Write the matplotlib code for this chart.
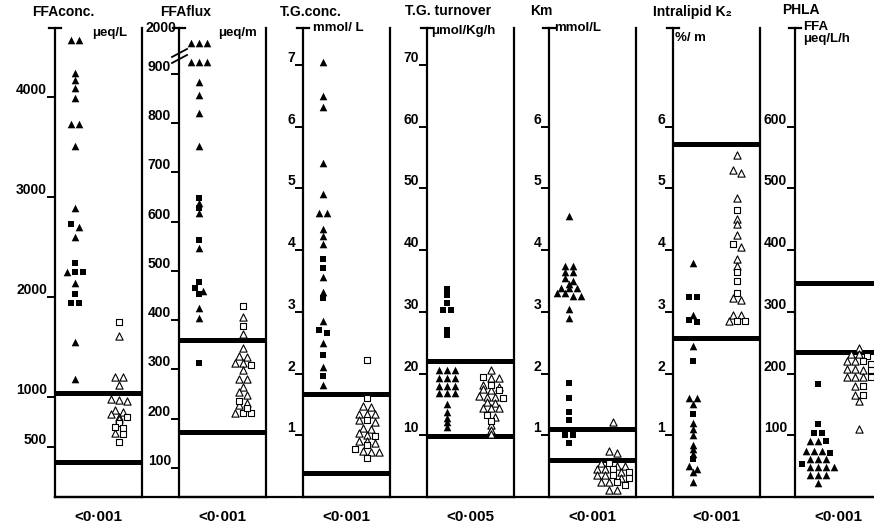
import matplotlib
matplotlib.use("Agg")
import matplotlib.pyplot as plt
from matplotlib.lines import Line2D
import numpy as np

plt.rcParams["font.family"] = ["Liberation Sans", "DejaVu Sans"]
plt.rcParams["font.weight"] = "bold"

# ---------------- data ----------------
titles = ["FFAconc.", "FFAflux", "T.G.conc.", "T.G. turnover", "Km", "Intralipid K₂", "PHLA"]
units = ["μeq/L", "μeq/m", "mmol/ L", "μmol/Kg/h", "mmol/L", "%/ m", "FFA\nμeq/L/h"]
p_values = ["<0·001", "<0·001", "<0·001", "<0·005", "<0·001", "<0·001", "<0·001"]

ffa_conc_ticks = [500, 1000, 2000, 3000, 4000]
ffa_conc_range = [350, 1040]
ffa_conc_tri_1 = [4570, 4570, 4240, 4170, 4090, 3990, 3730, 3730, 3510, 2890, 2700, 2600, 2250, 2140, 1550, 1180]
ffa_conc_sq_1 = [2730, 2340, 2250, 2250, 2030, 1940, 1940]
ffa_conc_tri_2 = [1610, 1200, 1200, 1120, 980, 960, 970, 870, 830, 850, 800, 780, 640]
ffa_conc_sq_2 = [1750, 800, 740, 700, 690, 630, 550]

ffa_flux_ticks = [100, 200, 300, 400, 500, 600, 700, 800, 900]
ffa_flux_range = [173, 360]
ffa_flux_tri_1 = [963, 963, 963, 924, 924, 924, 884, 857, 821, 754, 638, 618, 547, 459, 425, 405]
ffa_flux_sq_1 = [648, 628, 563, 478, 465, 453, 313]
ffa_flux_tri_2 = [407, 372, 344, 327, 325, 313, 313, 299, 281, 281, 264, 254, 248, 228, 232, 212]
ffa_flux_sq_2 = [429, 388, 309, 236, 212, 212, 222]

tg_conc_ticks = [1, 2, 3, 4, 5, 6, 7]
tg_conc_range = [0.39, 1.67]
tg_conc_tri_1 = [7.05, 6.5, 6.32, 5.41, 4.91, 4.6, 4.6, 4.34, 4.23, 4.1, 3.57, 3.32, 2.85, 2.5, 2.1, 1.82]
tg_conc_sq_1 = [3.86, 3.71, 3.22, 2.71, 2.66, 2.3, 1.96]
tg_conc_tri_2 = [1.47, 1.46, 1.35, 1.35, 1.35, 1.25, 1.22, 1.12, 1.1, 1.0, 1.04,
                 0.88, 0.91, 0.91, 0.73, 0.75, 0.73]
tg_conc_sq_2 = [2.22, 1.6, 1.25, 0.99, 0.84, 0.78, 0.63]

tg_turn_ticks = [10, 20, 30, 40, 50, 60, 70]
tg_turn_range = [9.9, 22.0]
tg_turn_tri_1 = [20.6, 20.6, 20.6, 19.3, 19.3, 19.3, 18.0, 18.0, 18.0, 16.9, 16.9, 16.9,
                 15.1, 13.8, 12.8, 12.2, 11.3]
tg_turn_sq_1 = [33.7, 32.7, 31.5, 30.3, 30.3, 27.1, 26.3]
tg_turn_tri_2 = [20.6, 19.3, 19.3, 18.2, 17.8, 17.3, 17.5, 16.4, 16.2, 16.2, 15.4, 15.2,
                 14.4, 14.4, 14.4, 13.0, 11.7, 10.9, 10.2]
tg_turn_sq_2 = [19.4, 18.2, 17.3, 16.1, 13.3, 12.3]

km_ticks = [1, 2, 3, 4, 5, 6]
km_range = [0.6, 1.1]
km_tri_1 = [4.55, 3.75, 3.75, 3.65, 3.65, 3.55, 3.5, 3.45, 3.38, 3.38, 3.38, 3.3, 3.3,
            3.25, 3.25, 3.05, 2.9]
km_sq_1 = [1.85, 1.6, 1.38, 1.25, 1.0, 1.0, 0.88]
km_tri_2 = [1.22, 0.72, 0.74, 0.55, 0.5, 0.5, 0.45, 0.45, 0.4, 0.35, 0.35, 0.3, 0.25,
            0.25, 0.12, 0.12]
km_sq_2 = [0.55, 0.45, 0.4, 0.35, 0.3, 0.25, 0.2]

k2_ticks = [1, 2, 3, 4, 5, 6]
k2_range = [2.57, 5.72]
k2_tri_1 = [3.8, 2.95, 2.45, 1.6, 1.6, 1.5, 1.2, 1.1, 1.0, 0.85, 0.78, 0.7, 0.5, 0.45, 0.4, 0.25]
k2_sq_1 = [3.24, 3.24, 2.87, 2.83, 2.2, 1.35, 0.62]
k2_tri_2 = [5.55, 5.3, 5.25, 4.85, 4.5, 4.42, 4.25, 4.05, 3.85, 3.75, 3.22, 3.2, 2.95, 2.95, 2.85]
k2_sq_2 = [4.65, 4.1, 3.65, 3.5, 3.3, 2.85, 2.85]

phla_ticks = [100, 200, 300, 400, 500, 600]
phla_range = [235, 347]
phla_tri_1 = [91, 91, 75, 75, 75, 62, 62, 62, 48, 48, 48, 48, 35, 35, 35, 22]
phla_sq_1 = [183, 118, 104, 104, 91, 71, 53]
phla_tri_2 = [242, 232, 232, 220, 220, 208, 208, 205, 195, 195, 195, 180, 165, 155, 110]
phla_sq_2 = [228, 220, 215, 205, 195, 180, 165]

panels = [
    (ffa_conc_ticks, ffa_conc_range, ffa_conc_tri_1, ffa_conc_sq_1, ffa_conc_tri_2, ffa_conc_sq_2),
    (ffa_flux_ticks, ffa_flux_range, ffa_flux_tri_1, ffa_flux_sq_1, ffa_flux_tri_2, ffa_flux_sq_2),
    (tg_conc_ticks, tg_conc_range, tg_conc_tri_1, tg_conc_sq_1, tg_conc_tri_2, tg_conc_sq_2),
    (tg_turn_ticks, tg_turn_range, tg_turn_tri_1, tg_turn_sq_1, tg_turn_tri_2, tg_turn_sq_2),
    (km_ticks, km_range, km_tri_1, km_sq_1, km_tri_2, km_sq_2),
    (k2_ticks, k2_range, k2_tri_1, k2_sq_1, k2_tri_2, k2_sq_2),
    (phla_ticks, phla_range, phla_tri_1, phla_sq_1, phla_tri_2, phla_sq_2),
]

# ---------------- layout ----------------
W, H = 874, 527
LEFT_PX = [55, 179, 303, 427, 549, 673, 795]
PANEL_W = 87
BOTTOM_PX, TOP_PX = 497, 28
YLIMS = [(0, 4690), (41, 993), (0, 7.6), (0, 76), (0, 7.6), (0, 7.6), (0, 760)]
GROUP_X = [(0.23, 0.73)] * 6 + [(0.26, 0.73)]
TITLE_POS = [(32, 12), (160, 12), (280, 12), (405, 11), (530, 11), (653, 12), (782, 10)]
UNIT_POS = [(92, 33), (218, 33), (313, 28), (431, 31), (554, 28), (675, 38), (803, 33)]


def fx(px):
    return px / W


def fy(py):
    return 1 - py / H


def swarm(values, ylim, height_px, row_tol=3.5, step=8.0):
    """Spread points that sit at (almost) the same height into a centred row."""
    vals = np.asarray(values, float)
    py = (vals - ylim[0]) / (ylim[1] - ylim[0]) * height_px
    order = np.argsort(-py, kind="stable")
    rows = []
    for i in order:
        if rows and abs(py[rows[-1][0]] - py[i]) < row_tol:
            rows[-1].append(i)
        else:
            rows.append([i])
    offsets = np.zeros(len(vals))
    for row in rows:
        for k, i in enumerate(row):
            offsets[i] = (k - (len(row) - 1) / 2) * step
    return offsets


fig = plt.figure(figsize=(W / 100, H / 100), dpi=100)
height_px = BOTTOM_PX - TOP_PX

for n, (ticks, normal, tri1, sq1, tri2, sq2) in enumerate(panels):
    left = LEFT_PX[n]
    ax = fig.add_axes([fx(left), fy(BOTTOM_PX), PANEL_W / W, height_px / H])
    ylim = YLIMS[n]
    ax.set_xlim(0, 1)
    ax.set_ylim(*ylim)
    ax.patch.set_alpha(0)
    ax.spines["top"].set_visible(False)
    for side in ("left", "right", "bottom"):
        ax.spines[side].set_linewidth(1.6)
    ax.set_xticks([])
    ax.set_yticks(ticks)
    ax.set_yticklabels([])
    ax.tick_params(axis="y", direction="out", length=6, width=1.4)
    for t in ticks:
        ax.text(-8 / PANEL_W, t, str(t), transform=ax.transData, ha="right", va="bottom",
                fontsize=10, fontweight="bold")

    for v in normal:
        ax.axhline(v, color="black", lw=3.6)

    for g, (tri, sq) in enumerate(((tri1, sq1), (tri2, sq2))):
        vals = list(tri) + list(sq)
        kinds = ["^"] * len(tri) + ["s"] * len(sq)
        off = swarm(vals, ylim, height_px)
        x = GROUP_X[n][g] + off / PANEL_W
        for kind in ("^", "s"):
            idx = [i for i, k in enumerate(kinds) if k == kind]
            size = 30 if kind == "^" else 20
            if g == 0:
                ax.scatter(x[idx], np.array(vals)[idx], marker=kind, s=size, c="black",
                           linewidths=0, zorder=3, clip_on=False)
            else:
                ax.scatter(x[idx], np.array(vals)[idx], marker=kind, s=size * 0.9,
                           facecolors="white", edgecolors="black", linewidths=0.8,
                           zorder=3, clip_on=False)

    # T cap at the top of the axis line
    fig.add_artist(Line2D([fx(left - 6), fx(left + 6)], [fy(TOP_PX)] * 2,
                          transform=fig.transFigure, color="black", lw=1.6))

    tx, ty = TITLE_POS[n]
    fig.text(fx(tx), fy(ty), titles[n], ha="left", va="center", fontsize=10, fontweight="bold")
    ux, uy = UNIT_POS[n]
    fig.text(fx(ux), fy(uy), units[n], ha="left", va="center", fontsize=9.5,
             fontweight="bold", linespacing=0.95)
    fig.text(fx(left + PANEL_W / 2), fy(517), p_values[n], ha="center", va="center",
             fontsize=11, fontweight="bold")

    if n == 1:
        ax.text(-3 / PANEL_W, ylim[1], "2000", transform=ax.transData, ha="right",
                va="center", fontsize=10, fontweight="bold")
        for dy in (0, 6):
            fig.add_artist(Line2D([fx(left - 7), fx(left + 8)], [fy(63 - dy), fy(55 - dy)],
                                  transform=fig.transFigure, color="black", lw=1.3))

# continuous base line
fig.add_artist(Line2D([fx(LEFT_PX[0]), 1], [fy(BOTTOM_PX)] * 2,
                      transform=fig.transFigure, color="black", lw=1.6))

fig.savefig("out.png", dpi=100, facecolor="white")
